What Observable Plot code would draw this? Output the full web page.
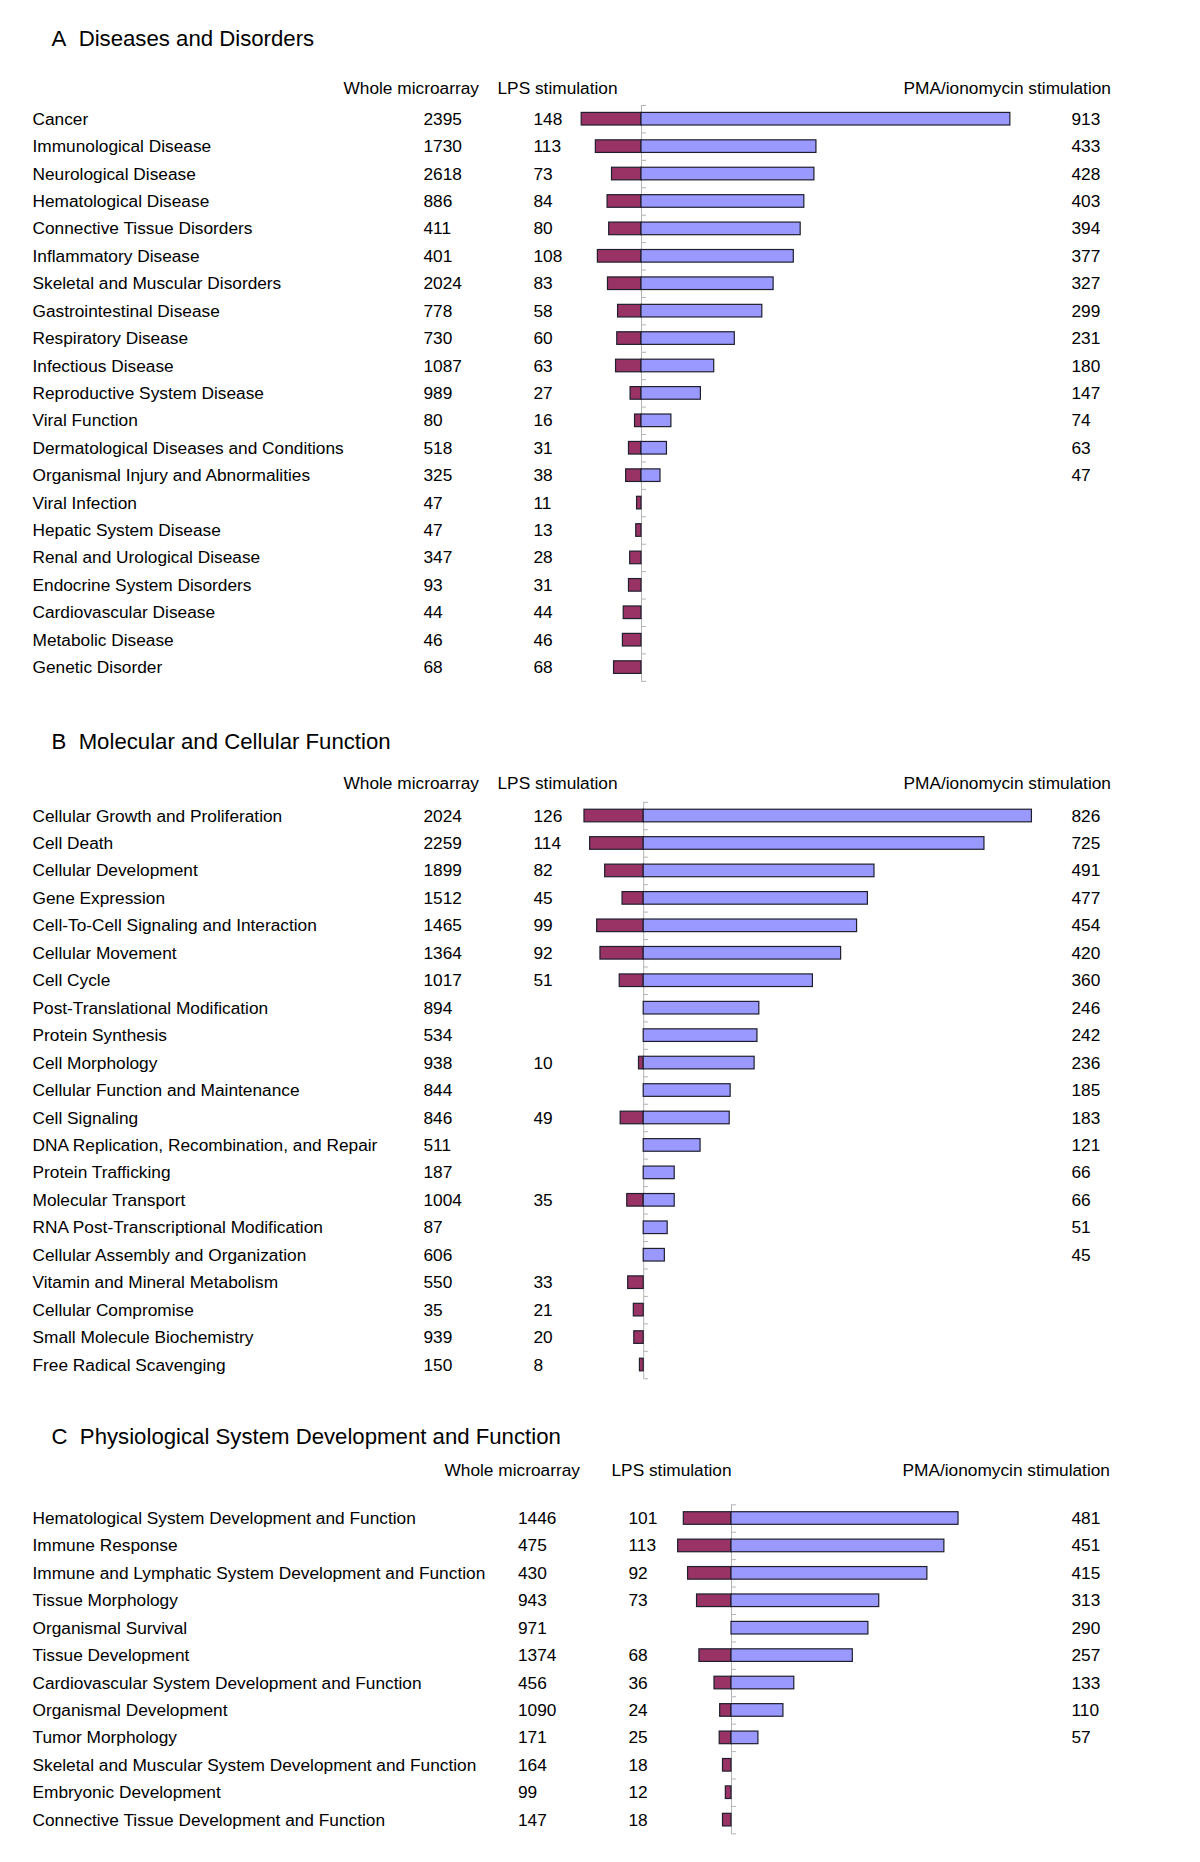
<!DOCTYPE html>
<html>
<head>
<meta charset="utf-8">
<script src="https://cdn.jsdelivr.net/npm/d3@7"></script>
<script src="https://cdn.jsdelivr.net/npm/@observablehq/plot@0.6"></script>
<style>
  html, body { margin: 0; padding: 0; background: #fff; }
  #chart { width: 1200px; }
  #chart svg { display: block; }
</style>
</head>
<body>
<div id="chart"></div>
<script>
// ---------- Data ----------
const headers = ["Whole microarray", "LPS stimulation", "PMA/ionomycin stimulation"];

const titleA = "A\u00a0\u00a0Diseases and Disorders";
const catsA = ["Cancer", "Immunological Disease", "Neurological Disease", "Hematological Disease",
  "Connective Tissue Disorders", "Inflammatory Disease", "Skeletal and Muscular Disorders",
  "Gastrointestinal Disease", "Respiratory Disease", "Infectious Disease", "Reproductive System Disease",
  "Viral Function", "Dermatological Diseases and Conditions", "Organismal Injury and Abnormalities",
  "Viral Infection", "Hepatic System Disease", "Renal and Urological Disease", "Endocrine System Disorders",
  "Cardiovascular Disease", "Metabolic Disease", "Genetic Disorder"];
const wholeA = [2395, 1730, 2618, 886, 411, 401, 2024, 778, 730, 1087, 989, 80, 518, 325, 47, 47, 347, 93, 44, 46, 68];
const lpsA = [148, 113, 73, 84, 80, 108, 83, 58, 60, 63, 27, 16, 31, 38, 11, 13, 28, 31, 44, 46, 68];
const pmaA = [913, 433, 428, 403, 394, 377, 327, 299, 231, 180, 147, 74, 63, 47, null, null, null, null, null, null, null];

const titleB = "B\u00a0\u00a0Molecular and Cellular Function";
const catsB = ["Cellular Growth and Proliferation", "Cell Death", "Cellular Development", "Gene Expression",
  "Cell-To-Cell Signaling and Interaction", "Cellular Movement", "Cell Cycle", "Post-Translational Modification",
  "Protein Synthesis", "Cell Morphology", "Cellular Function and Maintenance", "Cell Signaling",
  "DNA Replication, Recombination, and Repair", "Protein Trafficking", "Molecular Transport",
  "RNA Post-Transcriptional Modification", "Cellular Assembly and Organization", "Vitamin and Mineral Metabolism",
  "Cellular Compromise", "Small Molecule Biochemistry", "Free Radical Scavenging"];
const wholeB = [2024, 2259, 1899, 1512, 1465, 1364, 1017, 894, 534, 938, 844, 846, 511, 187, 1004, 87, 606, 550, 35, 939, 150];
const lpsB = [126, 114, 82, 45, 99, 92, 51, null, null, 10, null, 49, null, null, 35, null, null, 33, 21, 20, 8];
const pmaB = [826, 725, 491, 477, 454, 420, 360, 246, 242, 236, 185, 183, 121, 66, 66, 51, 45, null, null, null, null];

const titleC = "C\u00a0\u00a0Physiological System Development and Function";
const catsC = ["Hematological System Development and Function", "Immune Response",
  "Immune and Lymphatic System Development and Function", "Tissue Morphology", "Organismal Survival",
  "Tissue Development", "Cardiovascular System Development and Function", "Organismal Development",
  "Tumor Morphology", "Skeletal and Muscular System Development and Function", "Embryonic Development",
  "Connective Tissue Development and Function"];
const wholeC = [1446, 475, 430, 943, 971, 1374, 456, 1090, 171, 164, 99, 147];
const lpsC = [101, 113, 92, 73, null, 68, 36, 24, 25, 18, 12, 18];
const pmaC = [481, 451, 415, 313, 290, 257, 133, 110, 57, null, null, null];

// ---------- Drawing ----------
const FONT = "'Liberation Sans', Arial, Helvetica, sans-serif";
const LPS_FILL = "#993366";
const PMA_FILL = "#9999ff";
const BAR_STROKE = "#1f1f2e";
const AXIS_COLOR = "#b4b4b4";
const W = 1200;

function panel(o) {
  const n = o.cats.length;
  const rows = o.cats.map((c, i) => ({c, i, whole: o.whole[i], lps: o.lps[i], pma: o.pma[i]}));
  const lpsRows = rows.filter(d => d.lps != null);
  const pmaRows = rows.filter(d => d.pma != null);
  const inset = (o.step - 12.6) / 2;
  const txt = {fontSize: 17.3, fill: "#000", textAnchor: "start", lineAnchor: "middle", frameAnchor: "left"};
  const hdr = {fontSize: 17.3, fill: "#000", textAnchor: "start", lineAnchor: "middle", frameAnchor: "top-left", dy: o.headerY};
  return Plot.plot({
    width: W, height: o.height,
    marginTop: 0, marginBottom: 0, marginLeft: 0, marginRight: 0,
    style: {fontFamily: FONT, background: "#fff", color: "#000", overflow: "visible"},
    x: {domain: [-o.zeroX / o.k, (W - o.zeroX) / o.k], axis: null},
    y: {domain: [0, n], range: [o.rowTop, o.rowTop + n * o.step], axis: null},
    marks: [
      // category axis at zero with tick marks between categories
      Plot.ruleX([0], {y1: 0, y2: n, stroke: AXIS_COLOR, strokeWidth: 1}),
      Plot.ruleY(d3.range(n + 1), {y: d => d, x1: 0, x2: 5 / o.k, stroke: AXIS_COLOR, strokeWidth: 1}),
      // bars
      Plot.rect(lpsRows, {x1: d => -d.lps, x2: 0, y1: d => d.i, y2: d => d.i + 1,
        insetTop: inset, insetBottom: inset, fill: LPS_FILL, stroke: BAR_STROKE, strokeWidth: 1.2}),
      Plot.rect(pmaRows, {x1: 0, x2: d => d.pma, y1: d => d.i, y2: d => d.i + 1,
        insetTop: inset, insetBottom: inset, fill: PMA_FILL, stroke: BAR_STROKE, strokeWidth: 1.2}),
      // row texts
      Plot.text(rows, {...txt, y: d => d.i + 0.5, text: d => d.c, dx: o.cols[0]}),
      Plot.text(rows, {...txt, y: d => d.i + 0.5, text: d => String(d.whole), dx: o.cols[1]}),
      Plot.text(lpsRows, {...txt, y: d => d.i + 0.5, text: d => String(d.lps), dx: o.cols[2]}),
      Plot.text(pmaRows, {...txt, y: d => d.i + 0.5, text: d => String(d.pma), dx: o.cols[3]}),
      // title and column headers
      Plot.text([o.title], {text: d => d, fontSize: 22.2, fill: "#000", textAnchor: "start", lineAnchor: "middle",
        frameAnchor: "top-left", dx: 51, dy: o.titleY}),
      Plot.text([headers[0]], {...hdr, text: d => d, dx: o.headerX[0]}),
      Plot.text([headers[1]], {...hdr, text: d => d, dx: o.headerX[1]}),
      Plot.text([headers[2]], {...hdr, text: d => d, dx: o.headerX[2]})
    ]
  });
}

const chart = document.getElementById("chart");
chart.appendChild(panel({
  title: titleA, cats: catsA, whole: wholeA, lps: lpsA, pma: pmaA,
  height: 700, titleY: 38.5, headerY: 88, rowTop: 105, step: 27.42,
  zeroX: 641, k: 0.404, cols: [32, 423, 533, 1071], headerX: [343, 497, 903]
}));
chart.appendChild(panel({
  title: titleB, cats: catsB, whole: wholeB, lps: lpsB, pma: pmaB,
  height: 700, titleY: 41.2, headerY: 83.4, rowTop: 101.8, step: 27.45,
  zeroX: 643.2, k: 0.470, cols: [32, 423, 533, 1071], headerX: [343, 497, 903]
}));
chart.appendChild(panel({
  title: titleC, cats: catsC, whole: wholeC, lps: lpsC, pma: pmaC,
  height: 462, titleY: 36.8, headerY: 69.5, rowTop: 104.3, step: 27.42,
  zeroX: 731, k: 0.472, cols: [32, 517.5, 628, 1071], headerX: [444, 611, 902]
}));
</script>
</body>
</html>
